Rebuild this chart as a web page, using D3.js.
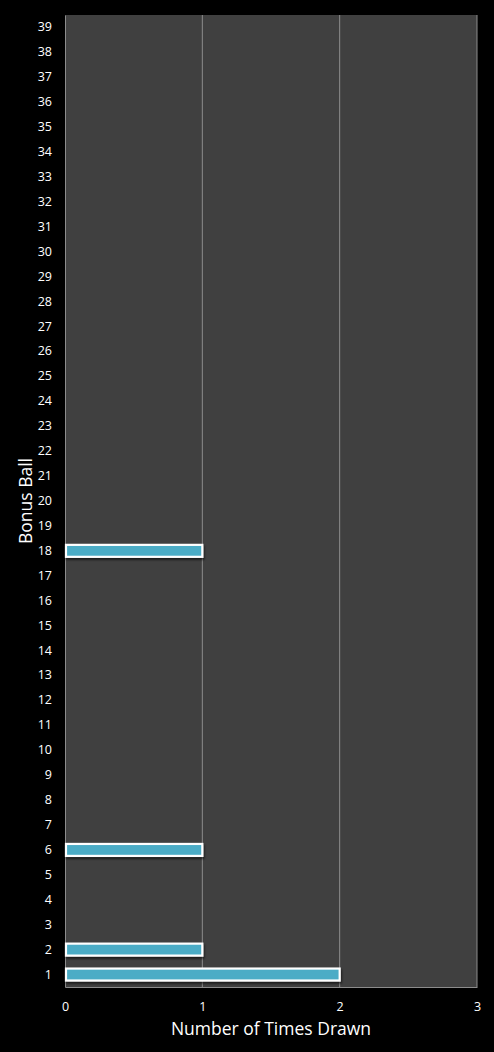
<!DOCTYPE html>
<html>
<head>
<meta charset="utf-8">
<script src="https://cdn.jsdelivr.net/npm/d3@7"></script>
<style>
  html, body { margin: 0; padding: 0; background: #000; }
  text { font-family: "Open Sans", sans-serif; fill: #fff; }
</style>
</head>
<body>
<script>
const WIDTH = 494;
const HEIGHT = 1052;
const MARGIN = { top: 15, right: 17, bottom: 65, left: 65 };

// Bonus ball numbers 1..39 and how many times each was drawn
const balls = ["1","2","3","4","5","6","7","8","9","10","11","12","13","14","15","16","17","18","19","20",
               "21","22","23","24","25","26","27","28","29","30","31","32","33","34","35","36","37","38","39"];
const timesDrawn = [2,1,0,0,0,1,0,0,0,0,0,0,0,0,0,0,0,1,0,0,
                    0,0,0,0,0,0,0,0,0,0,0,0,0,0,0,0,0,0,0];
const xTicks = [0, 1, 2, 3];

const dataset = balls.map((b, i) => ({ ball: b, count: timesDrawn[i] }));

const svg = d3.select("body").append("svg")
    .attr("width", WIDTH)
    .attr("height", HEIGHT);

// drop shadow for the bars
const defs = svg.append("defs");
const shadow = defs.append("filter").attr("id", "shadow")
    .attr("x", "-5%").attr("y", "-50%").attr("width", "110%").attr("height", "200%");
shadow.append("feDropShadow")
    .attr("dx", 1).attr("dy", 2).attr("stdDeviation", 1.2)
    .attr("flood-color", "#000").attr("flood-opacity", 0.6);

const x = d3.scaleLinear()
    .domain([0, 3])
    .range([MARGIN.left, WIDTH - MARGIN.right]);

const y = d3.scaleBand()
    .domain(balls)
    .range([HEIGHT - MARGIN.bottom, MARGIN.top])
    .paddingInner(0.52)
    .paddingOuter(0.26);

// plot background
svg.append("rect")
    .attr("x", x(0))
    .attr("y", MARGIN.top)
    .attr("width", x(3) - x(0))
    .attr("height", HEIGHT - MARGIN.bottom - MARGIN.top)
    .attr("fill", "#404040");

// vertical gridlines
svg.append("g")
  .selectAll("line")
  .data(xTicks.slice(1))
  .enter().append("line")
    .attr("x1", d => x(d)).attr("x2", d => x(d))
    .attr("y1", MARGIN.top).attr("y2", HEIGHT - MARGIN.bottom)
    .attr("stroke", "#8c8c8c")
    .attr("stroke-width", 1);

// axes
const xAxis = svg.append("g")
    .attr("transform", "translate(0," + (HEIGHT - MARGIN.bottom) + ")")
    .call(d3.axisBottom(x).tickValues(xTicks).tickFormat(d3.format("d")).tickSize(0).tickPadding(15));
xAxis.select(".domain").attr("stroke", "#8c8c8c");
xAxis.selectAll("text").style("font-size", "12.5px").attr("fill", "#fff");

const yAxis = svg.append("g")
    .attr("transform", "translate(" + MARGIN.left + ",0)")
    .call(d3.axisLeft(y).tickSize(0).tickPadding(13));
yAxis.select(".domain").attr("stroke", "#8c8c8c");
yAxis.selectAll("text").style("font-size", "12.5px").attr("fill", "#fff");

// bars
svg.append("g")
  .selectAll("rect")
  .data(dataset.filter(d => d.count > 0))
  .enter().append("rect")
    .attr("x", x(0) + 1)
    .attr("y", d => y(d.ball))
    .attr("width", d => x(d.count) - x(0) - 1)
    .attr("height", y.bandwidth())
    .attr("fill", "#4bacc6")
    .attr("stroke", "#fff")
    .attr("stroke-width", 2.2)
    .attr("filter", "url(#shadow)");

// axis titles
svg.append("text")
    .attr("x", (x(0) + x(3)) / 2)
    .attr("y", 1035)
    .attr("text-anchor", "middle")
    .style("font-size", "17.5px")
    .text("Number of Times Drawn");

svg.append("text")
    .attr("transform", "translate(32," + ((MARGIN.top + HEIGHT - MARGIN.bottom) / 2) + ") rotate(-90)")
    .attr("text-anchor", "middle")
    .style("font-size", "17.5px")
    .text("Bonus Ball");
</script>
</body>
</html>
